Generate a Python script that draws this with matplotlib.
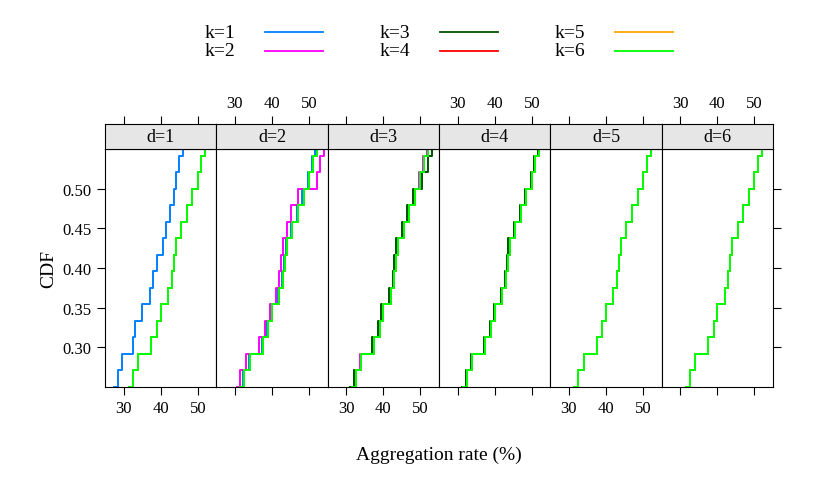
import matplotlib
matplotlib.use("Agg")
import matplotlib.pyplot as plt
from matplotlib.lines import Line2D

plt.rcParams["font.family"] = "Liberation Serif"
plt.rcParams["font.size"] = 13

panels = ["d=1", "d=2", "d=3", "d=4", "d=5", "d=6"]
k_labels = ["k=1", "k=2", "k=3", "k=4", "k=5", "k=6"]
k_colors = ["#0080ff", "#ff00ff", "#005000", "#ff0000", "#ffa500", "#00ff00"]

cdf_levels = [0.25, 0.2708, 0.2917, 0.3125, 0.3333, 0.3542, 0.375, 0.3958,
              0.4167, 0.4375, 0.4583, 0.4792, 0.5, 0.5208, 0.5417, 0.5625]
rate_converged = [31.5, 32.5, 34.0, 37.5, 39.0, 40.0, 42.0, 43.0, 43.5, 44.0,
                  45.5, 47.0, 48.5, 50.0, 51.0, 52.0]
rate_k1_early = [27.5, 28.5, 29.5, 32.5, 33.0, 35.0, 37.0, 38.0, 39.0, 40.5,
                 41.5, 42.5, 43.5, 44.0, 45.0, 46.0]
rate_k2_early = [30.5, 31.5, 33.0, 36.5, 38.0, 39.5, 41.0, 42.0, 42.5, 43.0,
                 44.0, 45.0, 47.0, 52.0, 53.0, 54.0]
rate_k3_early = [31.0, 32.0, 34.0, 37.0, 38.5, 39.5, 41.5, 42.5, 43.0, 43.5,
                 45.0, 46.5, 48.0, 50.5, 52.0, 53.0]
early = {0: rate_k1_early, 1: rate_k2_early, 2: rate_k3_early}

W, H = 830, 485
fig = plt.figure(figsize=(W / 100, H / 100), dpi=100)
left, right, bot, top, strip_h = 105, 773, 388, 150, 25
pw = (right - left) / 6
xticks = [30, 40, 50]

for i, name in enumerate(panels):
    x0 = left + i * pw
    ax = fig.add_axes([x0 / W, 1 - bot / H, pw / W, (bot - top) / H])
    for k in range(6):
        if k == i and k in early:
            xs = early[k]
        elif k < i and k in early:
            xs = [v - 0.3 * (i - k == 1) for v in rate_converged]
        else:
            xs = rate_converged
        ax.step(xs, cdf_levels, where="post", color=k_colors[k], lw=1.4)
    ax.set_xlim(25, 55)
    ax.set_ylim(0.25, 0.55)
    ax.set_xticks(xticks)
    ax.set_yticks([0.30, 0.35, 0.40, 0.45, 0.50])
    ax.tick_params(direction="out", length=6, top=False, bottom=True,
                   left=(i == 0), right=(i == 5),
                   labelbottom=(i % 2 == 0), labeltop=False,
                   labelleft=(i == 0), labelright=False, labelsize=12)
    if i == 0:
        ax.set_ylabel("CDF", fontsize=14)
        ax.yaxis.set_major_formatter(matplotlib.ticker.FormatStrFormatter("%.2f"))
    sax = fig.add_axes([x0 / W, 1 - top / H, pw / W, strip_h / H])
    sax.set_facecolor("#e6e6e6")
    sax.set_xlim(25, 55)
    sax.set_xticks(xticks)
    sax.set_yticks([])
    sax.tick_params(axis="x", direction="out", length=6, top=True, bottom=False,
                    labeltop=(i % 2 == 1), labelbottom=False, labelsize=12)
    sax.text(0.5, 0.5, name, ha="center", va="center", fontsize=13,
             transform=sax.transAxes)

fig.text((left + right) / 2 / W, 1 - 455 / H, "Aggregation rate (%)",
         ha="center", va="center", fontsize=14)

cols = [(205, 265), (380, 440), (555, 615)]
rows = [33, 52]
for k in range(6):
    c, r = k // 2, k % 2
    tx, lx = cols[c]
    y = 1 - rows[r] / H
    fig.text(tx / W, y, k_labels[k], ha="left", va="center", fontsize=14)
    fig.add_artist(Line2D([lx / W, (lx + 58) / W], [y, y], color=k_colors[k], lw=1.3))

fig.savefig("out.png", dpi=100)
